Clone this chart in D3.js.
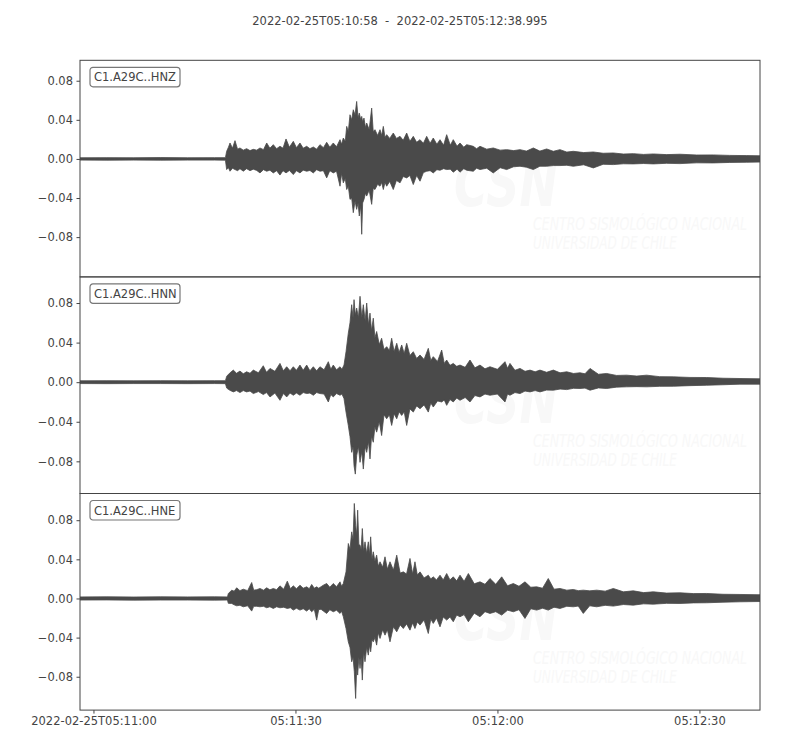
<!DOCTYPE html>
<html>
<head>
<meta charset="utf-8">
<script src="https://cdn.jsdelivr.net/npm/d3@7"></script>
<style>
  body { margin: 0; background: #fff; }
  text { font-family: "DejaVu Sans", sans-serif; }
</style>
</head>
<body>
<div id="seismogram"></div>
<script>
// Channel names and title
const channels = ["C1.A29C..HNZ", "C1.A29C..HNN", "C1.A29C..HNE"];
const startLabel = "2022-02-25T05:10:58";
const endLabel = "2022-02-25T05:12:38.995";
const traceSeconds = 100.995;

// Axis ticks
const xTickSeconds = [2, 32, 62, 92];   // seconds after start
const xTickLabels = ["2022-02-25T05:11:00", "05:11:30", "05:12:00", "05:12:30"];
const yTickValues = [-0.08, -0.04, 0, 0.04, 0.08];
const yLimits = [[-0.1207, 0.1009], [-0.1125, 0.1064], [-0.1141, 0.1073]];

// Envelopes: [seconds after start, max, min]
const hnzSamples = [
  [0, 0.0012, -0.0012], [4, 0.0013, -0.0013], [8, 0.0012, -0.0012], [12, 0.0014, -0.0013],
  [16, 0.0012, -0.0012], [20, 0.0013, -0.0012], [21.6, 0.0013, -0.0013],
  [21.78, 0.0078, -0.0109], [22.05, 0.0120, -0.0090], [22.28, 0.0163, -0.0126], [22.65, 0.0110, -0.0095],
  [23.02, 0.0187, -0.0109], [23.40, 0.0100, -0.0120], [23.76, 0.0112, -0.0100], [24.25, 0.0090, -0.0125],
  [24.75, 0.0105, -0.0100], [25.25, 0.0085, -0.0120], [25.74, 0.0098, -0.0105], [26.25, 0.0090, -0.0118],
  [26.73, 0.0112, -0.0143], [27.25, 0.0095, -0.0110], [27.73, 0.0163, -0.0126], [28.20, 0.0110, -0.0115],
  [28.71, 0.0146, -0.0143], [29.20, 0.0105, -0.0120], [29.70, 0.0129, -0.0165], [30.15, 0.0110, -0.0120],
  [30.60, 0.0204, -0.0143], [31.10, 0.0120, -0.0118], [31.68, 0.0180, -0.0160], [32.15, 0.0115, -0.0120],
  [32.67, 0.0163, -0.0143], [33.15, 0.0110, -0.0115], [33.67, 0.0129, -0.0126], [34.15, 0.0105, -0.0118],
  [34.65, 0.0122, -0.0143], [35.15, 0.0100, -0.0110], [35.64, 0.0146, -0.0126], [36.15, 0.0115, -0.0120],
  [36.64, 0.0170, -0.0194], [37.10, 0.0120, -0.0120], [37.62, 0.0163, -0.0143], [38.10, 0.0125, -0.0125],
  [38.62, 0.0197, -0.0279], [38.85, 0.0150, -0.0150], [39.11, 0.0214, -0.0245], [39.40, 0.0180, -0.0200],
  [39.61, 0.0333, -0.0313], [39.85, 0.0280, -0.0280], [40.10, 0.0452, -0.0414], [40.35, 0.0400, -0.0400],
  [40.59, 0.0503, -0.0550], [40.85, 0.0450, -0.0430], [41.09, 0.0588, -0.0516], [41.30, 0.0420, -0.0450],
  [41.48, 0.0469, -0.0584], [41.70, 0.0400, -0.0480], [41.84, 0.0435, -0.0771], [41.98, 0.0380, -0.0450],
  [42.18, 0.0418, -0.0414], [42.40, 0.0320, -0.0350], [42.58, 0.0367, -0.0380], [42.95, 0.0300, -0.0320],
  [43.32, 0.0520, -0.0465], [43.55, 0.0280, -0.0300], [43.81, 0.0299, -0.0313], [44.20, 0.0240, -0.0260],
  [44.56, 0.0299, -0.0279], [44.80, 0.0240, -0.0240], [45.05, 0.0333, -0.0313], [45.30, 0.0220, -0.0240],
  [45.55, 0.0248, -0.0279], [46.00, 0.0210, -0.0230], [46.53, 0.0265, -0.0313], [47.00, 0.0210, -0.0220],
  [47.53, 0.0231, -0.0245], [48.00, 0.0190, -0.0180], [48.52, 0.0265, -0.0194], [49.00, 0.0180, -0.0170],
  [49.50, 0.0231, -0.0262], [50.00, 0.0170, -0.0170], [50.50, 0.0197, -0.0228], [51.00, 0.0160, -0.0140],
  [51.49, 0.0231, -0.0126], [52.00, 0.0160, -0.0120], [52.47, 0.0214, -0.0143], [53.00, 0.0150, -0.0110],
  [53.47, 0.0197, -0.0116], [54.00, 0.0140, -0.0100], [54.46, 0.0248, -0.0109], [55.00, 0.0140, -0.0105],
  [55.44, 0.0197, -0.0136], [56.00, 0.0130, -0.0105], [56.44, 0.0163, -0.0136], [57.00, 0.0120, -0.0100],
  [57.43, 0.0146, -0.0116], [58.41, 0.0129, -0.0126], [58.90, 0.0105, -0.0095], [59.41, 0.0129, -0.0109],
  [60.40, 0.0100, -0.0095], [61.38, 0.0112, -0.0143], [62.40, 0.0090, -0.0090], [63.37, 0.0095, -0.0109],
  [64.40, 0.0085, -0.0080], [65.35, 0.0095, -0.0075], [66.30, 0.0080, -0.0085], [67.33, 0.0112, -0.0109],
  [68.30, 0.0080, -0.0075], [69.31, 0.0102, -0.0075], [70.30, 0.0078, -0.0068], [71.29, 0.0095, -0.0068],
  [72.30, 0.0070, -0.0065], [73.27, 0.0078, -0.0075], [74.80, 0.0065, -0.0060], [76.24, 0.0071, -0.0092],
  [77.70, 0.0058, -0.0055], [79.21, 0.0061, -0.0058], [80.70, 0.0050, -0.0050], [82.18, 0.0054, -0.0051],
  [83.70, 0.0046, -0.0047], [85.15, 0.0051, -0.0051], [87.10, 0.0044, -0.0045], [89.11, 0.0048, -0.0048],
  [91.60, 0.0040, -0.0040], [94.06, 0.0041, -0.0041], [96.50, 0.0036, -0.0036], [99.02, 0.0034, -0.0034],
  [101.0, 0.0032, -0.0032]
];

const hnnSamples = [
  [0, 0.0014, -0.0014], [4, 0.0015, -0.0015], [8, 0.0014, -0.0014], [12, 0.0015, -0.0014],
  [16, 0.0014, -0.0015], [20, 0.0015, -0.0014], [21.6, 0.0015, -0.0015],
  [21.79, 0.0060, -0.0060], [22.20, 0.0090, -0.0080], [22.77, 0.0122, -0.0098], [23.25, 0.0090, -0.0085],
  [23.76, 0.0112, -0.0105], [24.25, 0.0085, -0.0085], [24.75, 0.0105, -0.0098], [25.25, 0.0090, -0.0090],
  [25.74, 0.0122, -0.0115], [26.50, 0.0095, -0.0095], [27.22, 0.0166, -0.0125], [27.70, 0.0100, -0.0105],
  [28.22, 0.0139, -0.0149], [28.95, 0.0110, -0.0110], [29.70, 0.0190, -0.0183], [30.20, 0.0115, -0.0115],
  [30.70, 0.0156, -0.0149], [31.20, 0.0115, -0.0110], [31.68, 0.0156, -0.0132], [32.15, 0.0120, -0.0110],
  [32.67, 0.0173, -0.0132], [33.15, 0.0120, -0.0105], [33.67, 0.0173, -0.0115], [34.15, 0.0115, -0.0110],
  [34.65, 0.0156, -0.0132], [35.15, 0.0115, -0.0105], [35.64, 0.0156, -0.0115], [36.25, 0.0125, -0.0120],
  [36.88, 0.0207, -0.0200], [37.25, 0.0130, -0.0125], [37.62, 0.0173, -0.0149], [38.10, 0.0125, -0.0115],
  [38.62, 0.0156, -0.0132], [38.90, 0.0130, -0.0120], [39.21, 0.0173, -0.0166], [39.51, 0.0308, -0.0302],
  [39.85, 0.0495, -0.0437], [40.10, 0.0600, -0.0550], [40.35, 0.0783, -0.0709], [40.55, 0.0650, -0.0650],
  [40.70, 0.0834, -0.0844], [40.89, 0.0678, -0.0929], [41.09, 0.0749, -0.0742], [41.35, 0.0650, -0.0650],
  [41.59, 0.0868, -0.0810], [41.85, 0.0650, -0.0700], [42.08, 0.0783, -0.0878], [42.35, 0.0620, -0.0650],
  [42.58, 0.0800, -0.0709], [42.85, 0.0580, -0.0600], [43.07, 0.0698, -0.0776], [43.30, 0.0520, -0.0550],
  [43.56, 0.0647, -0.0607], [43.80, 0.0450, -0.0450], [44.06, 0.0512, -0.0505], [44.45, 0.0380, -0.0400],
  [44.80, 0.0444, -0.0539], [45.15, 0.0330, -0.0330], [45.55, 0.0359, -0.0370], [45.95, 0.0320, -0.0330],
  [46.29, 0.0444, -0.0437], [46.65, 0.0310, -0.0320], [47.04, 0.0393, -0.0370], [47.40, 0.0300, -0.0300],
  [47.78, 0.0376, -0.0336], [48.15, 0.0290, -0.0300], [48.52, 0.0393, -0.0437], [49.00, 0.0270, -0.0270],
  [49.50, 0.0308, -0.0302], [50.00, 0.0240, -0.0240], [50.50, 0.0275, -0.0268], [51.10, 0.0230, -0.0230],
  [51.73, 0.0342, -0.0302], [52.10, 0.0220, -0.0210], [52.47, 0.0258, -0.0251], [53.10, 0.0210, -0.0190],
  [53.72, 0.0325, -0.0200], [54.10, 0.0190, -0.0180], [54.46, 0.0224, -0.0234], [54.95, 0.0170, -0.0175],
  [55.44, 0.0190, -0.0200], [55.95, 0.0160, -0.0160], [56.44, 0.0173, -0.0183], [57.20, 0.0150, -0.0155],
  [57.92, 0.0224, -0.0200], [58.65, 0.0145, -0.0135], [59.41, 0.0173, -0.0149], [60.15, 0.0135, -0.0120],
  [60.89, 0.0156, -0.0132], [62.00, 0.0130, -0.0120], [63.12, 0.0207, -0.0200], [63.50, 0.0140, -0.0120],
  [63.86, 0.0190, -0.0132], [64.60, 0.0120, -0.0105], [65.35, 0.0139, -0.0115], [66.10, 0.0110, -0.0090],
  [66.84, 0.0122, -0.0098], [67.60, 0.0105, -0.0085], [68.32, 0.0122, -0.0098], [69.30, 0.0100, -0.0080],
  [70.30, 0.0122, -0.0081], [71.30, 0.0095, -0.0070], [72.29, 0.0105, -0.0075], [73.30, 0.0088, -0.0062],
  [74.26, 0.0095, -0.0064], [75.00, 0.0085, -0.0060], [75.75, 0.0139, -0.0081], [77.00, 0.0080, -0.0058],
  [78.22, 0.0088, -0.0064], [79.70, 0.0068, -0.0050], [81.19, 0.0071, -0.0047], [82.70, 0.0062, -0.0045],
  [84.16, 0.0071, -0.0047], [86.10, 0.0056, -0.0042], [88.12, 0.0054, -0.0041], [90.60, 0.0048, -0.0035],
  [93.07, 0.0047, -0.0031], [95.50, 0.0040, -0.0026], [98.02, 0.0037, -0.0020], [101.0, 0.0034, -0.0020]
];

const hneSamples = [
  [0, 0.0016, -0.0016], [4, 0.0017, -0.0015], [8, 0.0015, -0.0017], [12, 0.0017, -0.0016],
  [16, 0.0016, -0.0016], [20, 0.0017, -0.0017], [21.9, 0.0016, -0.0016],
  [22.03, 0.0050, -0.0050], [22.53, 0.0085, -0.0051], [22.90, 0.0075, -0.0065], [23.27, 0.0109, -0.0075],
  [23.75, 0.0080, -0.0070], [24.25, 0.0095, -0.0085], [24.90, 0.0080, -0.0075], [25.50, 0.0163, -0.0129],
  [25.80, 0.0085, -0.0080], [26.25, 0.0090, -0.0080], [26.73, 0.0102, -0.0085], [27.25, 0.0085, -0.0080],
  [27.73, 0.0109, -0.0095], [28.20, 0.0088, -0.0085], [28.71, 0.0102, -0.0102], [29.20, 0.0090, -0.0085],
  [29.70, 0.0129, -0.0095], [30.25, 0.0095, -0.0090], [30.79, 0.0177, -0.0102], [31.25, 0.0100, -0.0095],
  [31.68, 0.0129, -0.0119], [32.15, 0.0100, -0.0100], [32.67, 0.0136, -0.0119], [33.15, 0.0105, -0.0105],
  [33.67, 0.0119, -0.0129], [34.05, 0.0100, -0.0105], [34.41, 0.0143, -0.0136], [34.80, 0.0105, -0.0110],
  [35.15, 0.0119, -0.0221], [35.45, 0.0105, -0.0115], [35.80, 0.0120, -0.0110], [36.14, 0.0136, -0.0129],
  [36.64, 0.0153, -0.0153], [37.10, 0.0115, -0.0115], [37.62, 0.0153, -0.0136], [38.10, 0.0120, -0.0120],
  [38.62, 0.0170, -0.0153], [38.85, 0.0125, -0.0130], [39.11, 0.0153, -0.0187], [39.51, 0.0272, -0.0307],
  [39.85, 0.0562, -0.0443], [40.10, 0.0500, -0.0500], [40.35, 0.0681, -0.0647], [40.55, 0.0600, -0.0600],
  [40.74, 0.0971, -0.0749], [40.94, 0.0749, -0.1022], [41.10, 0.0650, -0.0700], [41.24, 0.0903, -0.0783],
  [41.42, 0.0550, -0.0600], [41.59, 0.0545, -0.0715], [41.75, 0.0500, -0.0600], [41.93, 0.0715, -0.0834],
  [42.12, 0.0480, -0.0550], [42.33, 0.0579, -0.0647], [42.58, 0.0460, -0.0500], [42.82, 0.0579, -0.0579],
  [43.00, 0.0450, -0.0480], [43.17, 0.0630, -0.0545], [43.37, 0.0400, -0.0420], [43.56, 0.0477, -0.0443],
  [43.80, 0.0380, -0.0400], [44.06, 0.0443, -0.0477], [44.30, 0.0330, -0.0350], [44.56, 0.0375, -0.0409],
  [44.95, 0.0320, -0.0320], [45.30, 0.0426, -0.0375], [45.65, 0.0300, -0.0320], [46.04, 0.0375, -0.0443],
  [46.55, 0.0290, -0.0290], [47.04, 0.0443, -0.0341], [47.55, 0.0260, -0.0270], [48.02, 0.0272, -0.0307],
  [48.50, 0.0250, -0.0260], [49.01, 0.0409, -0.0324], [49.40, 0.0250, -0.0250], [49.75, 0.0375, -0.0307],
  [50.10, 0.0240, -0.0240], [50.50, 0.0272, -0.0272], [51.10, 0.0210, -0.0220], [51.73, 0.0238, -0.0358],
  [52.10, 0.0200, -0.0210], [52.47, 0.0221, -0.0255], [52.95, 0.0190, -0.0200], [53.47, 0.0238, -0.0290],
  [53.95, 0.0190, -0.0190], [54.46, 0.0255, -0.0221], [54.95, 0.0190, -0.0190], [55.44, 0.0221, -0.0238],
  [55.95, 0.0180, -0.0170], [56.44, 0.0238, -0.0187], [57.05, 0.0175, -0.0165], [57.68, 0.0255, -0.0238],
  [58.55, 0.0150, -0.0150], [59.41, 0.0170, -0.0187], [60.15, 0.0145, -0.0135], [60.89, 0.0204, -0.0153],
  [61.75, 0.0145, -0.0135], [62.63, 0.0221, -0.0170], [63.50, 0.0130, -0.0120], [64.36, 0.0153, -0.0136],
  [65.20, 0.0125, -0.0115], [66.09, 0.0170, -0.0204], [66.95, 0.0115, -0.0105], [67.83, 0.0119, -0.0119],
  [68.70, 0.0105, -0.0100], [69.55, 0.0204, -0.0119], [70.40, 0.0095, -0.0090], [71.29, 0.0102, -0.0102],
  [72.30, 0.0085, -0.0080], [73.27, 0.0092, -0.0085], [74.00, 0.0080, -0.0078], [74.75, 0.0085, -0.0153],
  [75.70, 0.0078, -0.0075], [76.74, 0.0085, -0.0085], [78.00, 0.0075, -0.0070], [79.21, 0.0102, -0.0078],
  [80.70, 0.0068, -0.0062], [82.18, 0.0078, -0.0068], [83.70, 0.0060, -0.0055], [85.15, 0.0068, -0.0058],
  [87.10, 0.0055, -0.0050], [89.11, 0.0058, -0.0051], [91.10, 0.0050, -0.0045], [93.07, 0.0051, -0.0044],
  [95.50, 0.0043, -0.0038], [98.02, 0.0041, -0.0034], [101.0, 0.0038, -0.0031]
];

const traces = [hnzSamples, hnnSamples, hneSamples];

// Set the dimensions and margins
const margin = {top: 60.3, left: 80},
    width = 680,
    panelHeight = 216.6;

const ink = "#444444", traceColor = "#4a4a4a";

const svg = d3.select("#seismogram")
  .append("svg")
    .attr("width", 800)
    .attr("height", 750);

// Title
svg.append("text")
    .attr("x", 400)
    .attr("y", 25)
    .attr("text-anchor", "middle")
    .style("font-size", "11.5px")
    .style("white-space", "pre")
    .style("fill", ink)
    .text(`${startLabel}  -  ${endLabel}`);

const t0 = Date.UTC(2022, 1, 25, 5, 10, 58);
const toDate = s => new Date(t0 + s * 1000);

const x = d3.scaleUtc()
    .domain([toDate(0), toDate(traceSeconds)])
    .range([0, width]);

traces.forEach((samples, i) => {
  const g = svg.append("g")
      .attr("transform", `translate(${margin.left},${margin.top + i * panelHeight})`);

  const y = d3.scaleLinear()
      .domain(yLimits[i])
      .range([panelHeight, 0]);

  g.append("clipPath")
      .attr("id", `clip${i}`)
    .append("rect")
      .attr("width", width)
      .attr("height", panelHeight);

  // faint watermark behind the trace
  const wm = g.append("g").style("fill", "#f8f8f8").style("font-style", "italic")
      .style("font-family", "Liberation Sans, sans-serif");
  wm.append("text")
      .attr("x", 374).attr("y", 146)
      .attr("textLength", 104).attr("lengthAdjust", "spacingAndGlyphs")
      .style("font-size", "66px").style("font-weight", "bold")
      .text("CSN");
  wm.append("text")
      .attr("x", 453).attr("y", 170)
      .attr("textLength", 214).attr("lengthAdjust", "spacingAndGlyphs")
      .style("font-size", "17px")
      .text("CENTRO SISMOLÓGICO NACIONAL");
  wm.append("text")
      .attr("x", 453).attr("y", 189)
      .attr("textLength", 144).attr("lengthAdjust", "spacingAndGlyphs")
      .style("font-size", "17px")
      .text("UNIVERSIDAD DE CHILE");

  // trace envelope
  const area = d3.area()
      .x(d => x(toDate(d[0])))
      .y0(d => y(d[2]))
      .y1(d => y(d[1]));

  g.append("path")
      .datum(samples)
      .attr("clip-path", `url(#clip${i})`)
      .attr("d", area)
      .attr("fill", traceColor)
      .attr("stroke", traceColor)
      .attr("stroke-width", 0.8);

  // Y axis
  const yAxis = g.append("g")
      .call(d3.axisLeft(y).tickValues(yTickValues).tickSize(3.5).tickPadding(3.5)
        .tickFormat(d3.format(".2f")));
  yAxis.select(".domain").remove();
  yAxis.selectAll("line").attr("stroke", ink);
  yAxis.selectAll("text").style("font-size", "11.5px").style("fill", ink)
      .style("font-family", "DejaVu Sans, sans-serif");

  // X axis only on the bottom panel
  if (i === traces.length - 1) {
    const xAxis = g.append("g")
        .attr("transform", `translate(0,${panelHeight})`)
        .call(d3.axisBottom(x)
          .tickValues(xTickSeconds.map(toDate))
          .tickFormat((d, k) => xTickLabels[k])
          .tickSize(3.5).tickPadding(3.5));
    xAxis.select(".domain").remove();
    xAxis.selectAll("line").attr("stroke", ink);
    xAxis.selectAll("text").style("font-size", "11.5px").style("fill", ink)
        .style("font-family", "DejaVu Sans, sans-serif");
  }

  // frame
  g.append("rect")
      .attr("width", width)
      .attr("height", panelHeight)
      .attr("fill", "none")
      .attr("stroke", ink)
      .attr("stroke-width", 1);

  // channel label box
  const label = g.append("g").attr("transform", "translate(10,7)");
  label.append("rect")
      .attr("width", 90)
      .attr("height", 19.5)
      .attr("rx", 3)
      .attr("fill", "#fff")
      .attr("stroke", "#777")
      .attr("stroke-width", 1.2);
  label.append("text")
      .attr("x", 4)
      .attr("y", 14)
      .style("font-size", "11.5px")
      .style("fill", ink)
      .text(channels[i]);
});
</script>
</body>
</html>
